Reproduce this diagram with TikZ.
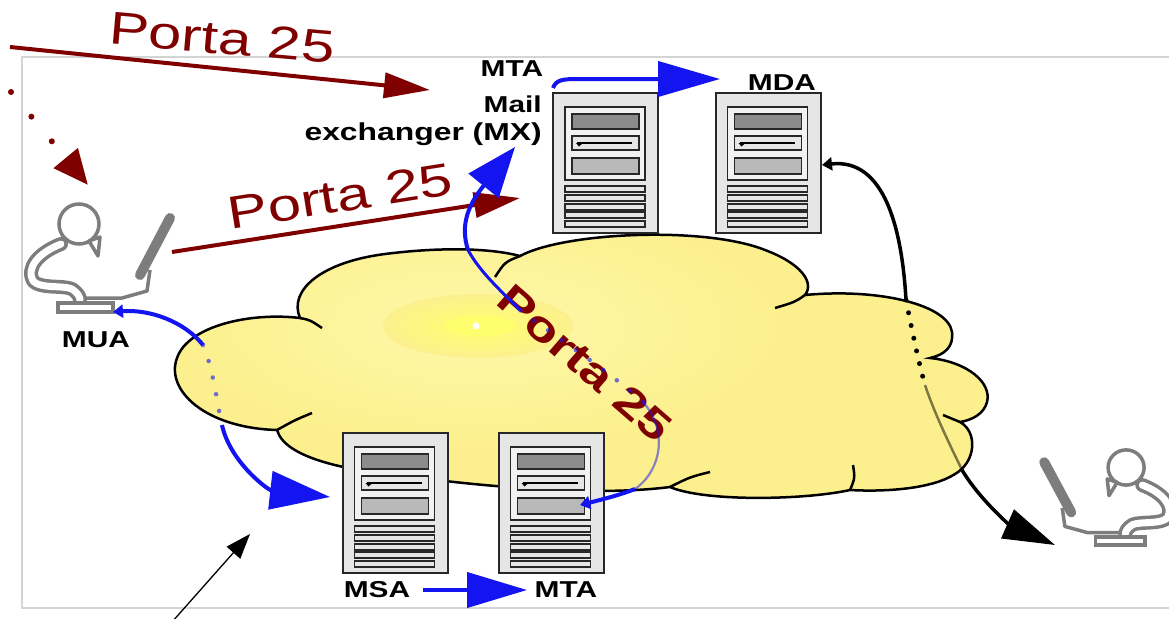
\documentclass[tikz,border=0pt]{standalone}
\usepackage{fontspec}
\setmainfont{Liberation Sans}
\usetikzlibrary{arrows.meta}

\definecolor{portared}{RGB}{128,0,0}
\definecolor{flowblue}{RGB}{20,20,240}
\definecolor{cloudfill}{RGB}{252,240,142}
\definecolor{cloudsoft}{RGB}{254,247,168}
\definecolor{glowyellow}{RGB}{255,255,110}
\definecolor{persongray}{RGB}{125,125,125}
\definecolor{framegray}{RGB}{212,212,212}
\definecolor{srvedge}{RGB}{40,40,40}
\definecolor{srvbody}{RGB}{230,230,230}
\definecolor{srvpanel}{RGB}{242,242,242}
\definecolor{srvdark}{RGB}{140,140,140}
\definecolor{srvmid}{RGB}{185,185,185}

% outline of the internet cloud
\newcommand\cloudoutline{(277,430) .. controls (205,428) and (165,390) .. (177,358)
  .. controls (188,326) and (250,312) .. (300,318)
  .. controls (288,290) and (322,262) .. (385,254)
  .. controls (440,247) and (490,248) .. (520,256)
  .. controls (565,232) and (705,226) .. (765,250)
  .. controls (800,263) and (815,282) .. (805,295)
  .. controls (880,288) and (948,305) .. (952,332)
  .. controls (954,347) and (944,355) .. (930,358)
  .. controls (968,362) and (992,383) .. (987,402)
  .. controls (984,414) and (972,420) .. (960,422)
  .. controls (978,432) and (976,462) .. (955,474)
  .. controls (932,489) and (885,492) .. (850,490)
  .. controls (805,500) and (705,502) .. (670,487)
  .. controls (600,496) and (500,488) .. (420,478)
  .. controls (345,471) and (285,458) .. (277,430) -- cycle}

\tikzset{
  lbl/.style={xscale=1.3, inner sep=0pt, font=\bfseries\fontsize{23}{26}\selectfont},
  porta/.style={xscale=1.3, inner sep=0pt, text=portared, font=\fontsize{46}{50}\selectfont},
  server/.style={draw=srvedge, line width=2pt, fill=srvbody, minimum width=105pt,
    minimum height=140pt, inner sep=0pt},
  srvpart/.style={draw=srvedge, line width=1.6pt},
  redarrow/.style={draw=portared, line width=4pt, -{Triangle[length=46pt,width=25pt]}},
  blueline/.style={draw=flowblue, line width=4pt},
  blueinner/.style={draw=flowblue, draw opacity=0.5, line width=2.2pt},
  bluedots/.style={draw=flowblue, draw opacity=0.6, line width=4.5pt, line cap=round,
    dash pattern=on 0pt off 17pt},
  blackline/.style={draw=black, line width=3.5pt},
  blackinner/.style={draw=black, draw opacity=0.5, line width=2.5pt},
  blackdots/.style={draw=black, line width=5pt, line cap=round, dash pattern=on 0pt off 13pt},
  tailtip/.style={arrows={Triangle[length=10pt,width=13pt]-}},
  cloudline/.style={draw=black, line width=2.5pt},
  serverface/.pic={
    \draw[srvpart, fill=srvpanel] (13,15) rectangle (93,88);
    \draw[srvpart, fill=srvdark] (20,22) rectangle (87,37);
    \draw[srvpart, fill=srvbody] (20,44) rectangle (87,58);
    \draw[line width=1.3pt] (25,51) -- (80,51);
    \fill (24,51) -- (31,51) -- (27,54.5) -- cycle;
    \draw[srvpart, fill=srvmid] (20,66) rectangle (87,82);
    \foreach \sy in {94,103,112,120,129}
      \draw[srvpart, line width=1.2pt, fill=srvbody] (13,\sy) rectangle (93,\sy+6);
  },
  person/.pic={
    \draw[persongray, line width=3.5pt] (21,-79) circle[radius=20];
    \draw[persongray, line width=3.5pt, line join=round, fill=white]
      (31,-62) -- (42,-66) -- (40,-47) -- cycle;
    \draw[persongray, line width=14pt, line cap=round, line join=round]
      (3,-59) .. controls (-20,-50) and (-32,-35) .. (-25,-22)
      .. controls (-18,-14) and (5,-18) .. (14,-14) .. controls (20,-10) and (22,-6) .. (22,-3);
    \draw[white, line width=7pt, line cap=round, line join=round]
      (3,-59) .. controls (-20,-50) and (-32,-35) .. (-25,-22)
      .. controls (-18,-14) and (5,-18) .. (14,-14) .. controls (20,-10) and (22,-6) .. (22,-3);
    \draw[persongray, line width=3.5pt, line join=round] (26,-5) -- (64,-5) -- (89,-12) -- (92,-33);
    \draw[persongray, line width=10pt, line cap=round] (112,-85) -- (82,-28);
    \draw[persongray, line width=3.5pt, fill=white] (0,0) rectangle (55,9);
  }
}

\begin{document}
\begin{tikzpicture}[x=1pt, y=-1pt]
\clip (0,0) rectangle (1169,618);
\fill[white] (0,0) rectangle (1169,618);

% page frame
\draw[framegray, line width=1.5pt] (22,57) rectangle (1190,608);

% the internet cloud
\fill[cloudfill] \cloudoutline;
\begin{scope}
  \clip \cloudoutline;
  \shade[inner color=cloudsoft, outer color=cloudfill] (478,326) ellipse [x radius=300, y radius=120];
  \shade[inner color=glowyellow, outer color=cloudfill] (478,326) ellipse [x radius=95, y radius=32];
  \fill[glowyellow] (480,326) ellipse [x radius=36, y radius=10];
  \fill[white] (476,326) circle[radius=3.5];
\end{scope}
\draw[cloudline] \cloudoutline;
\draw[cloudline] (300,318) .. controls (310,320) .. (322,328);
\draw[cloudline] (277,430) .. controls (295,420) .. (312,413);
\draw[cloudline] (520,256) .. controls (505,262) .. (495,277);
\draw[cloudline] (805,295) .. controls (795,302) .. (775,308);
\draw[cloudline] (960,422) .. controls (952,418) .. (943,415);
\draw[cloudline] (850,490) .. controls (855,478) .. (853,465);
\draw[cloudline] (670,487) .. controls (690,477) .. (710,472);

% servers
\node[server] (srvmx)  at (605.5,163) {};
\node[server] (srvmda) at (768,163) {};
\node[server] (srvmsa) at (395,503) {};
\node[server] (srvmta) at (551,503) {};
\foreach \s in {srvmx,srvmda,srvmsa,srvmta}
  \pic at (\s.north west) {serverface};

% users
\pic at (58,303) {person};
\pic[xscale=-0.9, yscale=0.88] at (1145,537) {person};

% labels
\node[lbl, anchor=base] (mtatop) at (512,77) {MTA};
\node[lbl, anchor=base east] (mail) at (542,112) {Mail};
\node[lbl, anchor=base east, font=\bfseries\fontsize{24.5}{27}\selectfont] (mxlbl) at (542,140) {exchanger (MX)};
\node[lbl, anchor=base] (mdalbl) at (782,90) {MDA};
\node[lbl, anchor=base] (mualbl) at (96,347) {MUA};
\node[lbl, anchor=base] (msalbl) at (377,597) {MSA};
\node[lbl, anchor=base] (mtalbl) at (566,597) {MTA};

% port 25 captions
\node[rotate=-5, porta] (porttop) at (222,38) {Porta 25};
\node[rotate=9, porta] (portmid) at (340,196) {Porta 25};
\node[rotate=-41, porta, font=\bfseries\fontsize{42}{46}\selectfont] (portnet) at (585,363) {Porta 25};

% end points of the connectors
\coordinate (inleft) at (10,47);
\coordinate (mxin) at (430,90);
\coordinate (dotstart) at (11,92);
\coordinate (mualanding) at (88,185);
\coordinate (monitor) at (172,252);
\coordinate (mxsend) at (520,198);

\coordinate (a0) at (113,312);
\coordinate (a1) at (203,345);
\coordinate (a2) at (222,425);
\coordinate (a3) at (330,497);

\coordinate (b0) at (580,505);
\coordinate (b1) at (635,489);
\coordinate (b2) at (643,402);
\coordinate (b3) at (520,310);
\coordinate (b4) at (468,250);
\coordinate (b5) at (515,147);

\coordinate (t0) at (553,88);
\coordinate (t1) at (578,79);
\coordinate (t2) at (720,79);

\coordinate (c0) at (822,165);
\coordinate (c1) at (906,300);
\coordinate (c2) at (925,385);
\coordinate (c3) at (962,470);
\coordinate (c4) at (1055,545);

\coordinate (m0) at (423,590);
\coordinate (m1) at (527,590);

\coordinate (n0) at (172,622);
\coordinate (n1) at (250,534);

% red port 25 connections
\draw[redarrow] (inleft) -- (mxin);
\draw[portared, line width=6pt, line cap=round, dash pattern=on 0pt off 32pt,
      -{Triangle[length=35pt,width=30pt]}] (dotstart) -- (mualanding);
\draw[redarrow] (monitor) -- (mxsend);

% MUA -> MSA
\draw[blueline, tailtip] (a0) .. controls (150,309) and (185,322) .. (a1);
\draw[bluedots] (a1) .. controls (213,368) and (216,398) .. (a2);
\draw[blueline, -{Triangle[length=60pt,width=38pt]}] (a2) .. controls (230,462) and (268,490) .. (a3);

% MTA -> MX across the internet
\draw[blueline, tailtip] (b0) .. controls (600,500) and (620,495) .. (b1);
\draw[blueinner] (b1) .. controls (662,470) and (668,430) .. (b2);
\draw[bluedots] (b2) .. controls (610,372) and (560,340) .. (b3);
\draw[draw=flowblue, line width=3pt] (b3) .. controls (500,290) and (480,272) .. (b4);
\draw[blueline, -{Triangle[length=50pt,width=38pt]}] (b4) .. controls (460,225) and (468,205) .. (b5);

% MX -> MDA
\draw[blueline, -{Triangle[length=62pt,width=35pt]}] (t0) .. controls (556,80) and (562,79) .. (t1) -- (t2);

% MSA -> MTA
\draw[draw=flowblue, line width=4pt, -{Triangle[length=60pt,width=35pt]}] (m0) -- (m1);

% MDA -> recipient
\draw[blackline, tailtip] (c0) .. controls (885,158) and (902,230) .. (c1);
\draw[blackdots] (c1) .. controls (912,330) and (918,360) .. (c2);
\draw[blackinner] (c2) .. controls (935,415) and (950,445) .. (c3);
\draw[blackline, -{Triangle[length=52pt,width=31pt]}] (c3) .. controls (980,500) and (1010,525) .. (c4);

% pointer at the submission arrow
\draw[black, line width=1.3pt, -{Triangle[length=25pt,width=18pt]}] (n0) -- (n1);
\end{tikzpicture}
\end{document}
